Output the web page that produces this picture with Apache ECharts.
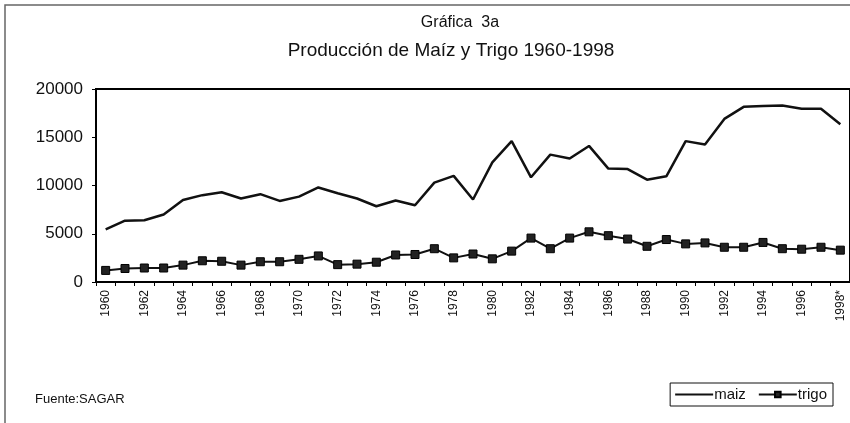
<!DOCTYPE html>
<html>
<head>
<meta charset="utf-8">
<script src="https://cdn.jsdelivr.net/npm/echarts@6/dist/echarts.min.js"></script>
<style>
    html, body { margin: 0; padding: 0; background: #fff; }
    #chart { width: 850px; height: 423px; }
</style>
</head>
<body>
<div id="chart"></div>
<script>
// años 1960-1998 (1998 preliminar)
var years = ['1960', '1961', '1962', '1963', '1964', '1965', '1966', '1967', '1968', '1969',
    '1970', '1971', '1972', '1973', '1974', '1975', '1976', '1977', '1978', '1979',
    '1980', '1981', '1982', '1983', '1984', '1985', '1986', '1987', '1988', '1989',
    '1990', '1991', '1992', '1993', '1994', '1995', '1996', '1997', '1998*'];

// produccion de maiz (miles de toneladas)
var maiz = [5450, 6350, 6400, 7000, 8500, 9000, 9300, 8650, 9100, 8400,
    8850, 9800, 9200, 8650, 7850, 8450, 7950, 10300, 11000, 8550,
    12400, 14600, 10850, 13200, 12800, 14100, 11750, 11700, 10600, 10950,
    14600, 14250, 16900, 18150, 18250, 18300, 17950, 17950, 16350];

// produccion de trigo
var trigo = [1200, 1400, 1450, 1450, 1750, 2200, 2150, 1750, 2100, 2100,
    2350, 2700, 1800, 1850, 2050, 2800, 2850, 3450, 2500, 2900,
    2400, 3200, 4550, 3450, 4550, 5200, 4800, 4450, 3700, 4400,
    3950, 4050, 3600, 3600, 4100, 3450, 3400, 3600, 3300];

var yTicks = [0, 5000, 10000, 15000, 20000];

var fontName = '"Liberation Sans", Arial, sans-serif';

var myChart = echarts.init(document.getElementById('chart'), null, { renderer: 'canvas' });

var option = {
    backgroundColor: '#fff',
    animation: false,
    title: [
        {
            text: 'Gráfica  3a',
            left: 455, top: 10, textAlign: 'center',
            textStyle: { fontFamily: fontName, fontSize: 16, fontWeight: 'normal', color: '#111' }
        },
        {
            text: 'Producción de Maíz y Trigo 1960-1998',
            left: 446, top: 36, textAlign: 'center',
            textStyle: { fontFamily: fontName, fontSize: 19, fontWeight: 'normal', color: '#111' }
        },
        {
            text: 'Fuente:SAGAR',
            left: 30, top: 388,
            textStyle: { fontFamily: fontName, fontSize: 13, fontWeight: 'normal', color: '#111' }
        }
    ],
    legend: {
        data: [
            { name: 'maiz', itemStyle: { opacity: 0 } },
            { name: 'trigo' }
        ],
        right: 17, top: 383,
        orient: 'horizontal',
        borderColor: '#111', borderWidth: 1,
        padding: [4, 6, 4, 4],
        itemGap: 12,
        itemWidth: 38, itemHeight: 7,
        textStyle: { fontFamily: fontName, fontSize: 15, color: '#111', padding: [0, 0, 0, -4] }
    },
    grid: {
        left: 96, top: 89, width: 760, bottom: 141,
        show: true, borderColor: '#000', borderWidth: 2,
        containLabel: false
    },
    xAxis: {
        type: 'category',
        data: years,
        boundaryGap: true,
        axisLine: { lineStyle: { color: '#000', width: 2 } },
        axisTick: { show: true, interval: 0, length: 4, lineStyle: { color: '#000' } },
        axisLabel: {
            interval: 1, rotate: 90, margin: 8,
            fontFamily: fontName, fontSize: 12, color: '#111'
        },
        splitLine: { show: false }
    },
    yAxis: {
        type: 'value',
        min: yTicks[0], max: yTicks[yTicks.length - 1], interval: 5000,
        axisLine: { show: true, lineStyle: { color: '#000', width: 2 } },
        axisTick: { show: true, length: 4, lineStyle: { color: '#000' } },
        axisLabel: {
            fontFamily: fontName, fontSize: 17, color: '#111', margin: 13,
            formatter: function (v) { return String(v); }
        },
        splitLine: { show: false }
    },
    series: [
        {
            name: 'maiz',
            type: 'line',
            data: maiz,
            symbol: 'none',
            lineStyle: { color: '#111', width: 2.5 },
            itemStyle: { color: '#111' }
        },
        {
            name: 'trigo',
            type: 'line',
            data: trigo,
            symbol: 'rect',
            symbolSize: 8,
            lineStyle: { color: '#111', width: 2 },
            itemStyle: { color: '#222', borderColor: '#000', borderWidth: 1 }
        }
    ],
    graphic: [
        {
            type: 'rect',
            shape: { x: 5, y: 5, width: 900, height: 500 },
            style: { fill: 'none', stroke: '#666', lineWidth: 1.5 },
            silent: true
        }
    ]
};

myChart.setOption(option);
</script>
</body>
</html>
